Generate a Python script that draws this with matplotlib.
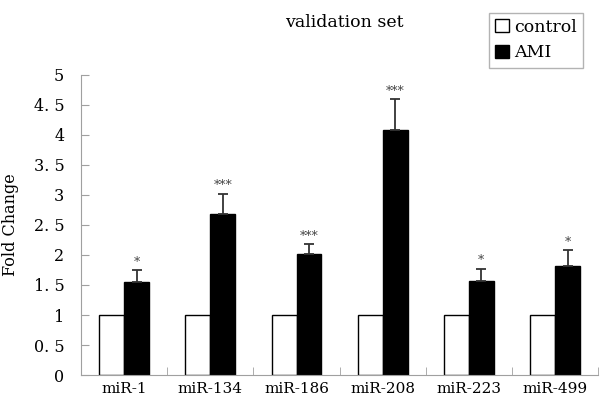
import matplotlib
matplotlib.use("Agg")
import matplotlib.pyplot as plt
from matplotlib.patches import Patch

# data
genes = ["miR-1", "miR-134", "miR-186", "miR-208", "miR-223", "miR-499"]
control = [1, 1, 1, 1, 1, 1]
ami = [1.55, 2.69, 2.01, 4.08, 1.57, 1.81]
ami_err = [0.20, 0.33, 0.17, 0.52, 0.20, 0.27]
stars = ["*", "***", "***", "***", "*", "*"]

plt.rcParams['font.family'] = ['DejaVu Serif', 'DejaVu Sans']

fig = plt.figure(figsize=(6, 4.05), dpi=100)
ax = fig.add_axes([0.135, 0.074, 0.862, 0.741])

x = list(range(len(genes)))
w = 0.29
ax.bar([i - w / 2 for i in x], control, w, color="white", edgecolor="black", linewidth=1, label="control")
ax.bar([i + w / 2 for i in x], ami, w, color="black", edgecolor="black", linewidth=1, label="AMI")
ax.errorbar([i + w / 2 for i in x], ami, yerr=[[0] * len(ami), ami_err], fmt="none",
            ecolor="#333333", elinewidth=1.3, capsize=3.5, capthick=1.3)

for i in x:
    ax.annotate(stars[i], (i + w / 2, ami[i] + ami_err[i]), xytext=(0, 1),
                textcoords="offset points", ha="center", va="bottom",
                fontsize=9, color="#444444")

ax.set_xlim(-0.5, 5.5)
ax.set_ylim(0, 5)
ax.set_yticks([0, 0.5, 1, 1.5, 2, 2.5, 3, 3.5, 4, 4.5, 5])
ax.set_yticklabels(["0", "0. 5", "1", "1. 5", "2", "2. 5", "3", "3. 5", "4", "4. 5", "5"], fontsize=11.5)
ax.set_xticks(x)
ax.set_xticklabels(genes, fontsize=11)
ax.set_xticks([i + 0.5 for i in x], minor=True)
ax.tick_params(axis="x", which="major", length=0, pad=5)
ax.tick_params(axis="x", which="minor", direction="in", length=6, color="#a0a0a0")
ax.tick_params(axis="y", direction="in", length=6, color="#a0a0a0", pad=12)

for s in ["top", "right"]:
    ax.spines[s].set_visible(False)
for s in ["left", "bottom"]:
    ax.spines[s].set_color("#a0a0a0")

ax.set_ylabel("Fold Change", fontsize=11.5)
ax.yaxis.set_label_coords(-0.12, 0.5)
fig.text(0.573, 0.945, "validation set", ha="center", va="center", fontsize=12.5)

handles = [Patch(facecolor="white", edgecolor="black", label="control"),
           Patch(facecolor="black", edgecolor="black", label="AMI")]
leg = fig.legend(handles=handles, loc="upper left", bbox_to_anchor=(0.8, 0.99),
                 fontsize=12.5, frameon=True, fancybox=False, handlelength=0.8,
                 handleheight=0.8, handletextpad=0.3, borderpad=0.35, labelspacing=0.5)
leg.get_frame().set_edgecolor("#a0a0a0")
leg.get_frame().set_linewidth(1)

fig.savefig("out.png", dpi=100)
